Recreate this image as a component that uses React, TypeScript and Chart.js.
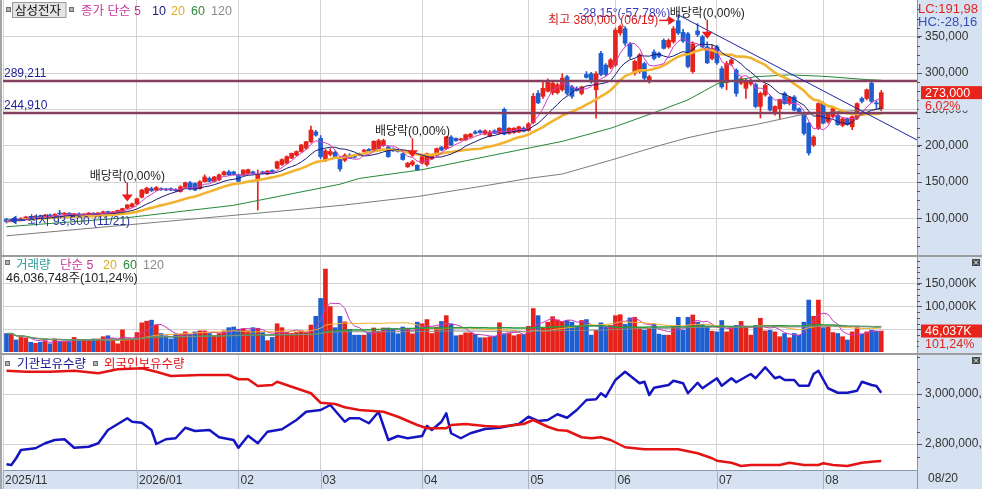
import React, { useEffect, useRef } from 'react';
import { Chart, registerables } from 'chart.js';

Chart.register(...registerables);

// ---------- layout / style ----------
const W = 982;
const PRICE_H = 255;
const VOL_H = 98;
const HOLD_H = 136;
const AXIS_W = 65;
const PAD_L = 3;
const DATE_H = 19;
const X_MIN = -0.72;
const X_MAX = 188.4;

const FONT = '"Liberation Sans", "Noto Sans CJK KR", Arial, sans-serif';
const UP = '#e6231b';
const DOWN = '#1f5ed0';
const GRID = '#d2d2d2';
const PANEL = '#d6e2f1';
const AXIS_LINE = '#8797ad';
const TICK_TXT = '#333333';

// ---------- data ----------
const stockName = '삼성전자';
const monthStarts = [27, 48, 65, 86, 108, 126, 147, 169];
const monthLabels = ['2025/11', '2026/01', '02', '03', '04', '05', '06', '07', '08'];
const lastDate = '08/20';

const opens = [
  99000, 95500, 99000, 97000, 100000, 102000, 100500, 103000, 102000, 104500,
  103000, 107000, 106000, 107000, 105000, 106000, 104500, 106000, 107000, 105500,
  107500, 109000, 105000, 107000, 110000, 114000, 116000, 120000, 129000, 134500,
  141000, 139000, 141000, 140500, 141000, 140000, 137000, 143000, 149000, 148000,
  141000, 150500, 155000, 151000, 153000, 160000, 164000, 164000, 160000, 159500,
  162000, 164000, 152000, 164000, 161000, 166000, 169000, 174000, 176000, 183000,
  187000, 192000, 196500, 205500, 219000, 210000, 181000, 188000, 191000, 181000,
  180000, 187000, 186000, 189000, 192000, 195000, 194000, 196000, 200000, 198000,
  196000, 194000, 189000, 171000, 174000, 173000, 176000, 174000, 182000, 187000,
  198000, 196000, 212000, 210000, 208000, 208000, 212000, 219000, 220500, 216000,
  213000, 220500, 217000, 250000, 217000, 218000, 219000, 224000, 221000, 232000,
  272000, 268000, 275000, 273000, 273000, 277000, 295000, 281000, 279000, 272000,
  298000, 299000, 277000, 327000, 311000, 308000, 311000, 355000, 361000, 340000,
  300000, 302000, 313000, 288000, 329000, 327000, 345000, 336000, 343000, 372000,
  356000, 354000, 302000, 358000, 350000, 336000, 320000, 336000, 306000, 287000,
  313000, 304000, 286000, 279000, 285000, 284000, 254000, 270000, 267000, 244000,
  251000, 272000, 258000, 267000, 251000, 244000, 231000, 201000, 224000, 258000,
  233000, 240000, 242000, 228000, 237000, 226000, 238000, 265000, 265000, 286000,
  259000, 251000,
];
const highs = [
  100000, 99000, 100000, 101000, 103000, 103000, 104000, 104500, 105500, 106000,
  106500, 111000, 108000, 108000, 107000, 107500, 106500, 108000, 108000, 108000,
  110000, 110000, 109500, 111500, 114000, 119000, 121000, 128000, 140000, 143000,
  143000, 144000, 142000, 141500, 142000, 141000, 145000, 150000, 151000, 149000,
  152000, 160000, 157000, 158000, 161000, 165000, 166000, 165000, 161000, 167000,
  168000, 165000, 166500, 165000, 166000, 167000, 179000, 182000, 186000, 190000,
  193000, 202000, 206000, 227000, 221000, 214000, 195000, 196000, 193000, 182000,
  189000, 189000, 188000, 190000, 195000, 196000, 207000, 209000, 209000, 200000,
  197000, 195000, 190000, 177000, 180000, 174000, 186000, 190000, 188000, 197000,
  199000, 213000, 214000, 211000, 210000, 216000, 217000, 221000, 222000, 222000,
  221000, 222000, 225000, 252000, 225000, 225000, 227000, 226000, 232000, 272000,
  276000, 290000, 292000, 290000, 286000, 299000, 297000, 283000, 281000, 282000,
  302000, 301000, 302000, 330000, 313000, 320000, 362000, 366000, 364000, 342000,
  318000, 327000, 315000, 297000, 332000, 329000, 347000, 347000, 364000, 380000,
  360000, 356000, 343000, 368000, 352000, 343000, 338000, 338000, 309000, 316000,
  320000, 306000, 294000, 292000, 292000, 286000, 274000, 285000, 269000, 255000,
  264000, 274000, 268000, 269000, 252000, 246000, 232000, 214000, 259000, 260000,
  246000, 252000, 244000, 239000, 238000, 241000, 259000, 267000, 278000, 289000,
  262000, 276000,
];
const lows = [
  93500, 95000, 96500, 96500, 99000, 99500, 100000, 101000, 101500, 102500,
  102500, 105000, 104000, 104500, 104000, 104000, 104000, 105000, 105000, 105000,
  107000, 107500, 104500, 106500, 109000, 113000, 115000, 119000, 128000, 134000,
  137000, 138000, 138500, 138000, 138000, 137000, 136000, 142000, 139000, 138000,
  140000, 150000, 150000, 150000, 152000, 159000, 159000, 159500, 150000, 159000,
  161000, 161000, 111500, 161500, 160000, 163000, 168000, 173000, 175000, 182000,
  186000, 191000, 195000, 204000, 213000, 182000, 178000, 186000, 184000, 165000,
  178000, 182000, 183000, 186000, 190000, 191000, 193000, 195000, 199000, 184000,
  192000, 191000, 180000, 170000, 172000, 166000, 175000, 172000, 181000, 186000,
  193000, 195000, 200000, 206000, 207000, 207000, 211000, 216000, 217000, 215000,
  212000, 216500, 216000, 215000, 216000, 217000, 218000, 219000, 220000, 230000,
  258000, 265000, 274000, 270000, 271000, 275000, 270000, 265000, 275000, 270000,
  293000, 286000, 238000, 296000, 296000, 306000, 309000, 352000, 338000, 320000,
  297000, 300000, 290000, 286000, 318000, 321000, 333000, 334000, 341000, 353000,
  342000, 307000, 300000, 350000, 335000, 313000, 318000, 312000, 279000, 277000,
  310000, 268000, 284000, 265000, 283000, 252000, 238000, 268000, 248000, 242000,
  237000, 257000, 256000, 248000, 246000, 215000, 187000, 199000, 222000, 230000,
  231000, 238000, 228000, 226000, 228000, 222000, 236000, 259000, 263000, 259000,
  250000, 248000,
];
const closes = [
  95500, 98500, 97000, 100000, 102000, 100500, 103000, 102000, 104500, 103000,
  105500, 106000, 107000, 105000, 106000, 104500, 106000, 107000, 105500, 107500,
  109000, 108000, 109000, 111000, 113500, 118500, 120000, 127000, 139000, 141500,
  138000, 142500, 139500, 139000, 139000, 138000, 143500, 149000, 140000, 139000,
  150500, 157000, 151000, 157000, 160000, 164000, 160000, 160000, 151000, 166500,
  167000, 162000, 159500, 162000, 165000, 164000, 178000, 181000, 185000, 189500,
  192000, 201000, 205500, 221500, 214500, 185000, 193000, 192000, 185000, 168000,
  187000, 183000, 184000, 187000, 194000, 192000, 206000, 207000, 207000, 185000,
  193000, 192000, 181000, 176000, 178000, 167000, 185000, 189000, 187000, 196000,
  194000, 212000, 201000, 207000, 209500, 215000, 216000, 217000, 218000, 220500,
  219000, 217000, 224000, 216000, 224000, 224000, 226000, 220000, 230000, 268000,
  259000, 279000, 290000, 286000, 284000, 293000, 272000, 268000, 276000, 281000,
  294000, 288000, 299000, 298000, 298000, 318000, 359000, 364000, 341000, 323000,
  316000, 325000, 293000, 295000, 320000, 323000, 334000, 345000, 361000, 355000,
  344000, 309000, 340000, 353000, 336000, 314000, 334000, 314000, 281000, 313000,
  318000, 272000, 292000, 288000, 290000, 254000, 272000, 283000, 249000, 254000,
  263000, 258000, 267000, 249000, 247000, 217000, 190000, 212000, 258000, 231000,
  244000, 251000, 229000, 237000, 229000, 240000, 258000, 261000, 277000, 261000,
  257500, 273000,
];
// volume in thousand shares (K)
const volumes = [
  40600, 40600, 26500, 32000, 30800, 21400, 19200, 21400, 25000, 18000,
  28600, 22800, 21400, 22800, 32000, 23500, 26500, 25000, 28600, 28600,
  33500, 35700, 28600, 18000, 48500, 28600, 28600, 42700, 64000, 67700,
  69900, 59200, 40600, 35700, 28600, 39300, 39300, 44200, 37800, 44200,
  46400, 46400, 40600, 35700, 40600, 46400, 53400, 54900, 50000, 51300,
  46400, 53400, 52100, 42700, 25000, 32000, 62000, 53400, 42700, 40600,
  42700, 46400, 42700, 59200, 78400, 117500, 182000, 99800, 53400, 78400,
  66200, 49900, 37000, 37000, 37000, 42700, 52700, 45600, 52700, 52700,
  49900, 39900, 54800, 49900, 39900, 65500, 62000, 71200, 40600, 54800,
  67000, 79800, 62000, 35600, 37000, 42000, 42000, 38500, 31300, 31300,
  33500, 34900, 64100, 38500, 40600, 35600, 38500, 38500, 56300, 95400,
  79800, 52700, 65500, 77600, 70500, 67000, 69100, 65500, 57000, 69100,
  71200, 37000, 47700, 64100, 54800, 58400, 79800, 81900, 60500, 74800,
  76200, 51300, 47700, 51300, 60500, 39200, 37000, 37000, 56300, 76200,
  47700, 76200, 81200, 65500, 60500, 54800, 45600, 44200, 69100, 44200,
  54800, 58400, 67000, 54800, 37000, 58400, 74100, 46300, 47700, 44200,
  33500, 40600, 31300, 40600, 37000, 65500, 114000, 78400, 114000, 53400,
  54800, 42700, 40600, 33500, 26300, 44200, 53400, 39200, 44200, 47700,
  45472, 46037,
];

// long moving averages (day index, value)
const ma60Days = [0, 25, 47, 69, 73, 86, 100, 115, 125, 133, 141, 147, 155, 162, 169, 178, 181];
const ma60Vals = [88500, 101000, 118000, 147000, 155000, 167000, 186000, 206000, 224000, 243000, 263000, 285000, 295000, 297500, 295500, 291000, 290000];
const ma120Days = [0, 20, 40, 60, 70, 85, 100, 108, 115, 125, 135, 141, 148, 155, 164, 172, 181];
const ma120Vals = [76000, 88000, 100000, 112000, 118500, 130000, 146000, 155000, 161000, 180000, 200000, 211000, 221000, 229000, 242000, 247000, 250000];

// holdings in million shares (day index, value)
const instDays = [0, 1, 2, 3, 6, 8, 10, 12, 14, 17, 19, 21, 25, 26, 28, 30, 31, 33, 35, 37, 39, 42, 44, 47, 48, 50, 52, 54, 57, 60, 62, 65, 67, 70, 71, 73, 75, 77, 79, 81, 83, 86, 87, 88, 90, 91, 92, 94, 96, 99, 102, 106, 108, 110, 112, 114, 116, 118, 120, 122, 123, 124, 126, 128, 131, 132, 133, 134, 137, 138, 140, 141, 143, 144, 147, 148, 150, 151, 154, 155, 157, 159, 160, 161, 163, 164, 166, 167, 168, 170, 172, 174, 176, 177, 179, 180, 181];
const instHold = [2719, 2716, 2743, 2776, 2783, 2803, 2816, 2819, 2785, 2789, 2803, 2856, 2903, 2889, 2885, 2856, 2800, 2819, 2823, 2865, 2852, 2856, 2827, 2816, 2785, 2833, 2803, 2849, 2859, 2896, 2929, 2936, 2956, 2889, 2903, 2903, 2883, 2929, 2816, 2832, 2823, 2832, 2872, 2856, 2889, 2923, 2843, 2823, 2843, 2860, 2865, 2880, 2909, 2892, 2896, 2919, 2905, 2936, 2976, 2979, 3003, 2989, 3056, 3089, 3043, 3049, 2996, 3025, 3036, 3053, 3043, 3003, 3045, 3023, 3063, 3033, 3063, 3047, 3080, 3063, 3107, 3063, 3069, 3056, 3056, 3033, 3033, 3080, 3093, 3023, 3005, 3005, 3013, 3049, 3036, 3032, 3005];
const forDays = [0, 4, 9, 14, 19, 23, 28, 31, 34, 40, 46, 48, 50, 52, 55, 56, 59, 61, 63, 65, 68, 70, 73, 78, 81, 85, 87, 91, 92, 95, 99, 102, 107, 109, 112, 114, 116, 119, 121, 123, 125, 128, 132, 139, 143, 146, 147, 150, 152, 154, 160, 162, 165, 168, 169, 171, 174, 177, 179, 181];
const forHold = [3093, 3089, 3089, 3093, 3083, 3099, 3103, 3089, 3072, 3076, 3076, 3059, 3059, 3032, 3036, 3049, 3029, 3016, 3003, 2965, 2960, 2947, 2936, 2929, 2909, 2876, 2863, 2863, 2876, 2880, 2872, 2869, 2880, 2896, 2869, 2856, 2853, 2827, 2823, 2827, 2816, 2787, 2779, 2779, 2763, 2743, 2733, 2725, 2712, 2716, 2716, 2725, 2716, 2716, 2723, 2716, 2712, 2725, 2729, 2732];

const priceTicks = [100000, 150000, 200000, 250000, 300000, 350000];
const volumeTicks = [50000, 100000, 150000];
const holdTicks = [2800, 3000];
const priceMaPeriods = [5, 10, 20, 60, 120];
const volumeMaPeriods = [5, 20, 60, 120];
const supportLevels = [289211, 244910];
const trendFrom = { day: 139, price: 380000 };
const trendTo = { day: 188.4, price: 207900 };
const exDividendDays = [25, 84, 145];
const exDividendRate = 0;
const highDate = '06/19';
const lowDate = '11/21';
const lcValue = 191.98;
const hcValue = -28.16;
const trendAngle = -28.15;
const trendChange = -57.78;
const lastVolumeShares = 46036748;
const volumeRatio = 101.24;

// ---------- ranges ----------
const PRICE_MIN = 49620;
const PRICE_MAX = 400500;
const VOL_MAX = 210700;
const HOLD_MIN = 2696;
const HOLD_MAX = 3164;

// ---------- helpers ----------
const fmtInt = (v: number) => Math.round(v).toLocaleString('en-US');
const fmtDec = (v: number) => v.toFixed(2).replace('.', ',');
const sma = (arr: number[], n: number) =>
  arr.map((_, i) => {
    const s = Math.max(0, i - n + 1);
    let t = 0;
    for (let j = s; j <= i; j++) t += arr[j];
    return t / (i - s + 1);
  });
const pts = (arr: number[]) => arr.map((v, i) => ({ x: i, y: v }));
const pairPts = (days: number[], vals: number[]) => days.map((d, k) => ({ x: d, y: vals[k] }));
const candleColors = closes.map((c, i) => (c >= opens[i] ? UP : DOWN));

function txt(ctx: any, s: string, x: number, y: number, color: string, size = 12, align = 'left', baseline = 'alphabetic') {
  ctx.font = `${size}px ${FONT}`;
  ctx.fillStyle = color;
  ctx.textAlign = align;
  ctx.textBaseline = baseline;
  ctx.fillText(s, x, y);
}
function square(ctx: any, x: number, y: number) {
  ctx.fillStyle = '#b4b4b4';
  ctx.fillRect(x, y, 5, 5);
  ctx.strokeStyle = '#6e6e6e';
  ctx.lineWidth = 1;
  ctx.strokeRect(x + 0.5, y + 0.5, 4, 4);
}
function closeBtn(ctx: any, x: number, y: number) {
  ctx.fillStyle = '#4a4a4a';
  ctx.fillRect(x, y, 8, 7);
  ctx.strokeStyle = '#fff';
  ctx.lineWidth = 1;
  ctx.beginPath();
  ctx.moveTo(x + 2, y + 1.5); ctx.lineTo(x + 6, y + 5.5);
  ctx.moveTo(x + 6, y + 1.5); ctx.lineTo(x + 2, y + 5.5);
  ctx.stroke();
}
function minorTicks(chart: any, majorStep: number, from: number, to: number) {
  const { ctx, chartArea: a, scales } = chart;
  const y = scales.y;
  const step = majorStep / 4;
  ctx.save();
  ctx.strokeStyle = '#555';
  ctx.lineWidth = 1;
  ctx.beginPath();
  for (let v = from; v <= to + 1e-6; v += step) {
    const py = Math.round(y.getPixelForValue(v)) + 0.5;
    if (py < a.top + 1 || py > a.bottom - 1) continue;
    ctx.moveTo(a.right, py);
    ctx.lineTo(a.right + 3, py);
  }
  ctx.stroke();
  ctx.restore();
}
const noPad = (s: any) => {
  s.paddingTop = 0;
  s.paddingBottom = 0;
  s.paddingLeft = 0;
  s.paddingRight = 0;
};

function framePlugin(opts: { band?: boolean; topRule?: boolean }) {
  return {
    id: 'frame',
    beforeDraw(chart: any) {
      const { ctx, chartArea: a, width, height } = chart;
      ctx.save();
      ctx.fillStyle = '#ffffff';
      ctx.fillRect(0, 0, width, height);
      ctx.fillStyle = PANEL;
      ctx.fillRect(a.right, 0, width - a.right, height);
      if (opts.band) ctx.fillRect(0, a.bottom, width, height - a.bottom);
      ctx.fillStyle = '#a4a4a4';
      ctx.fillRect(0, 0, 2, height);
      ctx.restore();
    },
    afterDraw(chart: any) {
      const { ctx, chartArea: a, width, height, scales } = chart;
      ctx.save();
      if (opts.band) {
        ctx.strokeStyle = '#a9b2c0';
        ctx.lineWidth = 1;
        ctx.beginPath();
        [X_MIN, ...monthStarts].forEach((d) => {
          const px = Math.round(scales.x.getPixelForValue(d)) + 0.5;
          ctx.moveTo(px, a.bottom);
          ctx.lineTo(px, height);
        });
        ctx.stroke();
      }
      ctx.strokeStyle = AXIS_LINE;
      ctx.lineWidth = 1;
      ctx.beginPath();
      ctx.moveTo(Math.round(a.right) + 0.5, 0);
      ctx.lineTo(Math.round(a.right) + 0.5, height);
      ctx.stroke();
      if (opts.topRule) {
        ctx.strokeStyle = '#9c9c9c';
        ctx.lineWidth = 2;
        ctx.beginPath();
        ctx.moveTo(0, 1);
        ctx.lineTo(width, 1);
        ctx.stroke();
      }
      ctx.restore();
    },
  };
}

function xScale(withLabels: boolean) {
  return {
    type: 'linear',
    min: X_MIN,
    max: X_MAX,
    offset: false,
    position: 'bottom',
    afterBuildTicks: (s: any) => {
      s.ticks = [X_MIN, ...monthStarts].map((v) => ({ value: v }));
    },
    afterFit: (s: any) => {
      s.height = withLabels ? DATE_H : 0;
      noPad(s);
    },
    ticks: withLabels
      ? {
          autoSkip: false, maxRotation: 0, minRotation: 0, align: 'start', padding: 3, labelOffset: 2,
          color: TICK_TXT, font: { family: FONT, size: 12 },
          callback: (_v: any, i: number) => monthLabels[i],
        }
      : { display: false },
    grid: { color: GRID, drawTicks: false, offset: false },
    border: withLabels ? { display: true, color: AXIS_LINE } : { display: false },
  };
}
function yScale(min: number, max: number, ticks: number[], fmt: (v: number) => string) {
  return {
    type: 'linear',
    position: 'right',
    min,
    max,
    afterBuildTicks: (s: any) => {
      s.ticks = ticks.map((v) => ({ value: v }));
    },
    afterFit: (s: any) => {
      s.width = AXIS_W;
      noPad(s);
    },
    ticks: { color: TICK_TXT, font: { family: FONT, size: 12 }, padding: 3, callback: (v: any) => fmt(Number(v)) },
    grid: { color: GRID, tickColor: '#555', tickLength: 5 },
    border: { display: true, color: AXIS_LINE },
  };
}
function lineDs(data: any[], color: string, width: number, order: number) {
  return { type: 'line', data, borderColor: color, borderWidth: width, pointRadius: 0, tension: 0, fill: false, order, borderJoinStyle: 'round', spanGaps: true };
}
const baseOptions = (padTop: number, padBottom: number) => ({
  responsive: false,
  maintainAspectRatio: false,
  animation: false,
  events: [],
  layout: { padding: { left: PAD_L, right: 0, top: padTop, bottom: padBottom } },
  plugins: { legend: { display: false }, tooltip: { enabled: false } },
});

// ---------- price chart ----------
function makePrice(canvas: HTMLCanvasElement) {
  const ma = priceMaPeriods.slice(0, 3).map((n) => pts(sma(closes, n)));
  const overlay = {
    id: 'priceOverlay',
    afterDraw(chart: any) {
      const { ctx, chartArea: a, scales } = chart;
      const X = (d: number) => scales.x.getPixelForValue(d);
      const Y = (p: number) => scales.y.getPixelForValue(p);
      minorTicks(chart, 50000, 50000, 400000);
      ctx.save();
      // legend
      square(ctx, 6, 7);
      ctx.fillStyle = '#e4e4e4';
      ctx.fillRect(12.5, 2.5, 53.5, 15);
      ctx.strokeStyle = '#9a9a9a';
      ctx.lineWidth = 1;
      ctx.strokeRect(12.5, 2.5, 53.5, 15);
      txt(ctx, stockName, 15, 14.5, '#111', 12.5);
      square(ctx, 69, 7);
      txt(ctx, `종가 단순 ${priceMaPeriods[0]}`, 81, 14.5, '#c8379d', 12.5);
      const legendCols = ['#1b1b73', '#e0ac20', '#2a8a3c', '#8a8a8a'];
      const legendX = [152, 171, 191, 211];
      priceMaPeriods.slice(1).forEach((p, k) => txt(ctx, String(p), legendX[k], 14.5, legendCols[k], 12.5));
      // support labels
      supportLevels.forEach((lv) => txt(ctx, fmtInt(lv), a.left + 1, Y(lv) - 4, '#1e1e96', 12));
      // high annotation
      const hiIdx = highs.indexOf(Math.max(...highs));
      const hx = X(hiIdx);
      const hy = Y(highs[hiIdx]);
      txt(ctx, `${fmtDec(trendAngle)}°(${fmtDec(trendChange)}%)`, hx - 8, hy + 1.8, '#3a3ab8', 12, 'right');
      txt(ctx, `최고 ${fmtInt(highs[hiIdx])} (${highDate})`, hx - 20, hy + 9.5, '#d41a1a', 12, 'right');
      ctx.strokeStyle = '#e41c1c';
      ctx.fillStyle = '#e41c1c';
      ctx.lineWidth = 1.5;
      const ay = hy + 5.5;
      ctx.beginPath(); ctx.moveTo(hx - 19, ay); ctx.lineTo(hx - 9, ay); ctx.stroke();
      ctx.beginPath(); ctx.moveTo(hx - 3, ay); ctx.lineTo(hx - 10, ay - 4.5); ctx.lineTo(hx - 10, ay + 4.5); ctx.closePath(); ctx.fill();
      // low annotation
      const loIdx = lows.indexOf(Math.min(...lows));
      const lx = X(loIdx);
      const ly = Y(lows[loIdx]);
      ctx.strokeStyle = '#1d3fcf';
      ctx.fillStyle = '#1d3fcf';
      ctx.beginPath(); ctx.moveTo(lx + 9, ly - 3); ctx.lineTo(lx + 19, ly - 3); ctx.stroke();
      ctx.beginPath(); ctx.moveTo(lx + 3, ly - 3); ctx.lineTo(lx + 10, ly - 7.5); ctx.lineTo(lx + 10, ly + 1.5); ctx.closePath(); ctx.fill();
      txt(ctx, `최저 ${fmtInt(lows[loIdx])} (${lowDate})`, lx + 21, ly + 2, '#28389c', 12);
      // ex-dividend markers
      exDividendDays.forEach((d) => {
        const x = X(d);
        const tip = Y(highs[d]) - 3;
        txt(ctx, `배당락(${fmtDec(exDividendRate)}%)`, x, tip - 22, '#222', 12, 'center');
        ctx.strokeStyle = '#ee1c1c';
        ctx.fillStyle = '#ee1c1c';
        ctx.lineWidth = 1.5;
        ctx.beginPath(); ctx.moveTo(x, tip - 19); ctx.lineTo(x, tip - 6); ctx.stroke();
        ctx.beginPath(); ctx.moveTo(x - 5.5, tip - 7); ctx.lineTo(x + 5.5, tip - 7); ctx.lineTo(x, tip); ctx.closePath(); ctx.fill();
      });
      // right panel info
      txt(ctx, `LC:${fmtDec(lcValue)}`, a.right + 1, 13, '#e0241c', 13);
      txt(ctx, `HC:${fmtDec(hcValue)}`, a.right + 1, 25.5, '#3050b8', 13);
      const last = closes[closes.length - 1];
      const prev = closes[closes.length - 2];
      const py = Y(last);
      ctx.fillStyle = '#e8231a';
      ctx.fillRect(a.right + 4, py - 6.5, 70, 13);
      txt(ctx, fmtInt(last), a.right + 8, py + 0.5, '#ffffff', 12.5, 'left', 'middle');
      ctx.fillStyle = PANEL;
      ctx.fillRect(a.right + 2, py + 7, 70, 11);
      txt(ctx, `${fmtDec((last / prev - 1) * 100)}%`, a.right + 8, py + 17, '#e0241c', 12.5);
      ctx.restore();
    },
  };
  return new Chart(canvas, {
    type: 'bar',
    data: {
      datasets: [
        { type: 'bar', data: highs.map((h, i) => ({ x: i, y: [lows[i], h] })), backgroundColor: candleColors, barThickness: 1, grouped: false, minBarLength: 1, order: 20 },
        { type: 'bar', data: opens.map((o, i) => ({ x: i, y: [o, closes[i]] })), backgroundColor: candleColors, barThickness: 4, grouped: false, minBarLength: 1, order: 19 },
        lineDs(pairPts(ma120Days, ma120Vals), '#7c7c7c', 1, 8),
        lineDs(pairPts(ma60Days, ma60Vals), '#24893a', 1, 7),
        lineDs(ma[2], '#f2b430', 2.6, 6),
        lineDs(ma[1], '#1b1b73', 1, 5),
        lineDs(ma[0], '#d23cbe', 1, 4),
        ...supportLevels.map((lv) => lineDs([{ x: X_MIN, y: lv }, { x: X_MAX, y: lv }], '#83405f', 2.5, 2)),
        lineDs([{ x: trendFrom.day, y: trendFrom.price }, { x: trendTo.day, y: trendTo.price }], '#2424a0', 1, 1),
      ],
    } as any,
    options: {
      ...baseOptions(0, 0),
      scales: { x: xScale(false), y: yScale(PRICE_MIN, PRICE_MAX, priceTicks, fmtInt) },
    } as any,
    plugins: [framePlugin({}), overlay] as any,
  });
}

// ---------- volume chart ----------
function makeVolume(canvas: HTMLCanvasElement) {
  const colors = ['#c838c0', '#f0b030', '#2a9a3c', '#8a8a8a'];
  const widths = [1, 1, 1.5, 1];
  const overlay = {
    id: 'volOverlay',
    afterDraw(chart: any) {
      const { ctx, chartArea: a, scales } = chart;
      minorTicks(chart, 50000, 0, 200000);
      ctx.save();
      square(ctx, 5, 5);
      txt(ctx, '거래량', 16, 13.5, '#2f9a9a', 12.5);
      txt(ctx, `단순 ${volumeMaPeriods[0]}`, 60, 13.5, '#c8379d', 12.5);
      const lx = [103, 123, 143];
      const lc = ['#e0ac20', '#2a8a3c', '#8a8a8a'];
      volumeMaPeriods.slice(1).forEach((p, k) => txt(ctx, String(p), lx[k], 13.5, lc[k], 12.5));
      txt(ctx, `${fmtInt(lastVolumeShares)}주(${fmtDec(volumeRatio)}%)`, 6, 26.5, '#222', 12.5);
      closeBtn(ctx, 972, 4);
      const lastK = volumes[volumes.length - 1];
      const vy = scales.y.getPixelForValue(lastK);
      ctx.fillStyle = '#e8231a';
      ctx.fillRect(a.right + 4, vy - 6.5, 70, 13);
      txt(ctx, `${fmtInt(lastK)}K`, a.right + 8, vy + 0.5, '#ffffff', 12.5, 'left', 'middle');
      ctx.fillStyle = PANEL;
      ctx.fillRect(a.right + 2, vy + 7, 70, 11);
      txt(ctx, `${fmtDec(volumeRatio)}%`, a.right + 8, vy + 16.5, '#e0241c', 12.5);
      ctx.restore();
    },
  };
  return new Chart(canvas, {
    type: 'bar',
    data: {
      datasets: [
        { type: 'bar', data: pts(volumes), backgroundColor: candleColors, barThickness: 4, grouped: false, order: 20 },
        ...volumeMaPeriods.map((n, k) => lineDs(pts(sma(volumes, n)), colors[k], widths[k], 10 - k)).reverse(),
      ],
    } as any,
    options: {
      ...baseOptions(1, 1),
      scales: {
        x: xScale(false),
        y: yScale(0, VOL_MAX, volumeTicks, (v) => (v === volumeTicks[0] ? '' : `${fmtInt(v)}K`)),
      },
    } as any,
    plugins: [framePlugin({ topRule: true }), overlay] as any,
  });
}

// ---------- holdings chart ----------
function makeHoldings(canvas: HTMLCanvasElement) {
  const overlay = {
    id: 'holdOverlay',
    afterDraw(chart: any) {
      const { ctx, chartArea: a } = chart;
      minorTicks(chart, 200, 2600, 3200);
      ctx.save();
      square(ctx, 5, 8);
      txt(ctx, '기관보유수량', 17, 14.5, '#161690', 12.5);
      square(ctx, 93, 8);
      txt(ctx, '외국인보유수량', 104, 14.5, '#e0161a', 12.5);
      closeBtn(ctx, 972, 4);
      txt(ctx, lastDate, a.right + 11, a.bottom + 3, TICK_TXT, 12, 'left', 'top');
      ctx.restore();
    },
  };
  return new Chart(canvas, {
    type: 'line',
    data: {
      datasets: [
        lineDs(pairPts(instDays, instHold), '#1414c0', 2.5, 2),
        lineDs(pairPts(forDays, forHold), '#e41414', 2.5, 1),
      ],
    } as any,
    options: {
      ...baseOptions(0, 0),
      scales: {
        x: xScale(true),
        y: yScale(HOLD_MIN, HOLD_MAX, holdTicks, (v) => fmtInt(v * 1e6)),
      },
    } as any,
    plugins: [framePlugin({ band: true, topRule: true }), overlay] as any,
  });
}

export default function App() {
  const r1 = useRef<HTMLCanvasElement>(null);
  const r2 = useRef<HTMLCanvasElement>(null);
  const r3 = useRef<HTMLCanvasElement>(null);
  useEffect(() => {
    const charts = [makePrice(r1.current!), makeVolume(r2.current!), makeHoldings(r3.current!)];
    return () => charts.forEach((c) => c.destroy());
  }, []);
  const cs = (top: number, h: number) => ({ position: 'absolute' as const, left: 0, top, width: W, height: h, display: 'block' });
  return (
    <div style={{ position: 'fixed', left: 0, top: 0, width: W, height: 489, background: '#fff', overflow: 'hidden' }}>
      <canvas ref={r1} width={W} height={PRICE_H} style={cs(0, PRICE_H)} />
      <canvas ref={r2} width={W} height={VOL_H} style={cs(PRICE_H, VOL_H)} />
      <canvas ref={r3} width={W} height={HOLD_H} style={cs(PRICE_H + VOL_H, HOLD_H)} />
    </div>
  );
}
